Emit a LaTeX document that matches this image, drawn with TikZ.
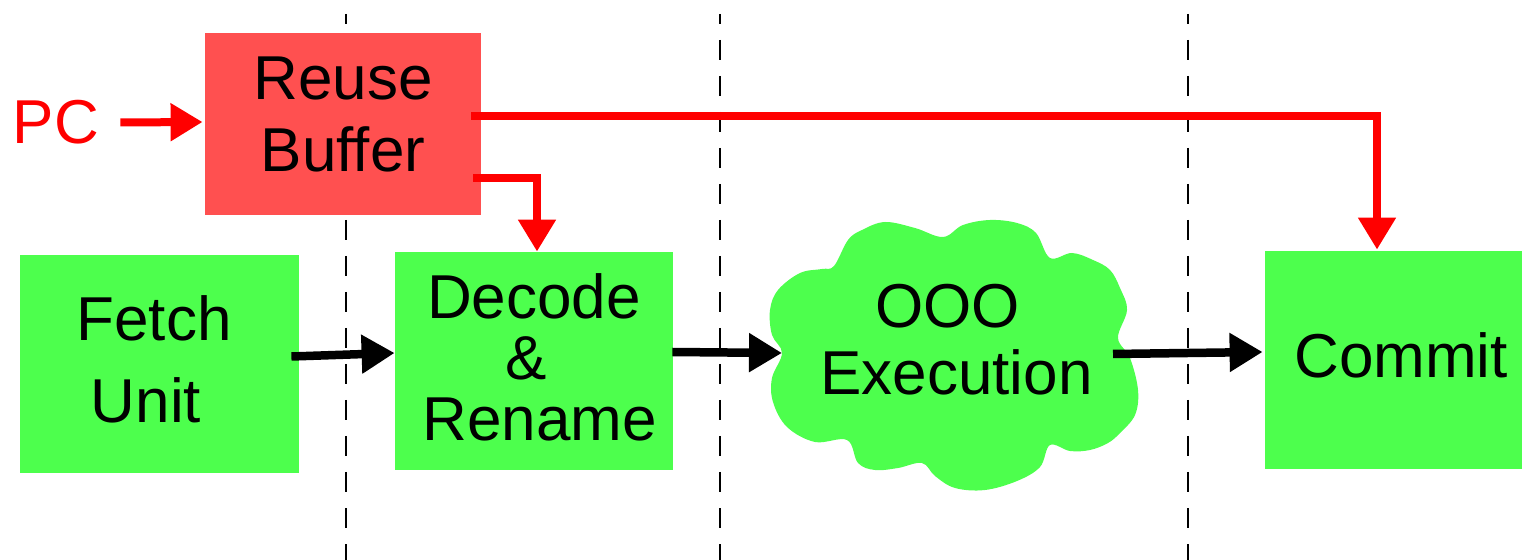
\documentclass[tikz,border=0pt]{standalone}
\usepackage{fontspec}
\setmainfont{Liberation Sans}
\usetikzlibrary{arrows.meta,calc}
\definecolor{boxgreen}{RGB}{77,255,77}
\definecolor{boxred}{RGB}{255,80,80}
\definecolor{arrred}{RGB}{255,0,0}
\tikzset{
  stage/.style={rectangle, inner sep=0pt, fill=boxgreen, align=center},
  reusebox/.style={rectangle, inner sep=0pt, fill=boxred, align=center},
  dashline/.style={line width=1pt, dash pattern=on 10pt off 8pt, dash phase=5pt},
  blkarrow/.style={line width=4.25pt, -{Triangle[length=16.5pt,width=18.5pt]}},
  redarrow/.style={draw=arrred, line width=4pt, -{Triangle[length=16pt,width=18pt]}},
}
\begin{document}
\begin{tikzpicture}[x=0.5pt,y=-0.5pt]
\useasboundingbox (0,0) rectangle (1524,560);
% stage separators
\draw[dashline] (346,14) -- (346,560);
\draw[dashline] (720,14) -- (720,560);
\draw[dashline] (1188,14) -- (1188,560);
% boxes
\node[reusebox, minimum width=138pt, minimum height=91pt, text depth=10pt,
      font=\fontsize{31pt}{36pt}\selectfont] (reuse) at (343,124) {Reuse\\Buffer};
\node[stage, minimum width=139.5pt, minimum height=109pt, text depth=5pt,
      font=\fontsize{31pt}{41pt}\selectfont] (fetch) at (159.5,364) {Fetch\kern5.5pt\\Unit\kern13.5pt};
\node[stage, minimum width=139pt, minimum height=109pt, text depth=4pt,
      font=\fontsize{31pt}{30.5pt}\selectfont] (decode) at (534,361) {Decode\\\&\kern8pt\\\kern5.5pt Rename};
\node[stage, minimum width=128.5pt, minimum height=109pt, text depth=5pt,
      font=\fontsize{31pt}{36pt}\selectfont] (commit) at (1393.5,360) {\kern7.5pt Commit};
% cloud
\fill[boxgreen] plot[smooth cycle, tension=0.6] coordinates {
 (782,353) (772,335) (770,310) (778,290) (800,273) (822,269) (834,266)
 (848,240) (862,230) (885,222) (915,228) (943,237)
 (963,225) (990,220) (1017,223) (1036,233) (1050,258)
 (1072,253) (1093,260) (1110,270) (1120,288) (1127,310) (1118,338)
 (1130,358) (1138,390) (1135,415) (1120,433) (1108,443)
 (1090,450) (1070,451) (1050,445)
 (1040,467) (1017,481) (985,490) (955,488) (935,476) (922,463)
 (898,468) (875,470) (858,463) (847,440)
 (815,442) (787,427) (773,402) (772,378)};
\node[align=center, inner sep=0pt, font=\fontsize{31pt}{33.5pt}\selectfont] (ooo) at (952,340) {OOO\kern4.5pt\\\kern4.5pt Execution};
\coordinate (oooW) at (782,353);
\coordinate (oooE) at (1113,354);
% PC
\node[text=arrred, inner sep=0pt, font=\fontsize{31pt}{36pt}\selectfont] (pc) at (56,122.5) {PC};
% black pipeline arrows
\draw[blkarrow] ($(fetch.east)+(-8,-7.5)$) -- ($(decode.west)+(0,-8)$);
\draw[blkarrow] ($(decode.east)+(-1,-9)$) -- (oooW);
\draw[blkarrow] (oooE) -- ($(commit.west)+(-2,-8)$);
% red arrows
\draw[redarrow] ($(pc.east)+(21,0)$) -- ($(reuse.west)+(-2,-2)$);
\draw[redarrow] ($(reuse.east)+(-10,-8)$) -| ($(commit.north)+(-16.5,-1)$);
\draw[redarrow] ($(reuse.east)+(-8,54)$) -| ($(decode.north)+(3,0)$);
\end{tikzpicture}
\end{document}
